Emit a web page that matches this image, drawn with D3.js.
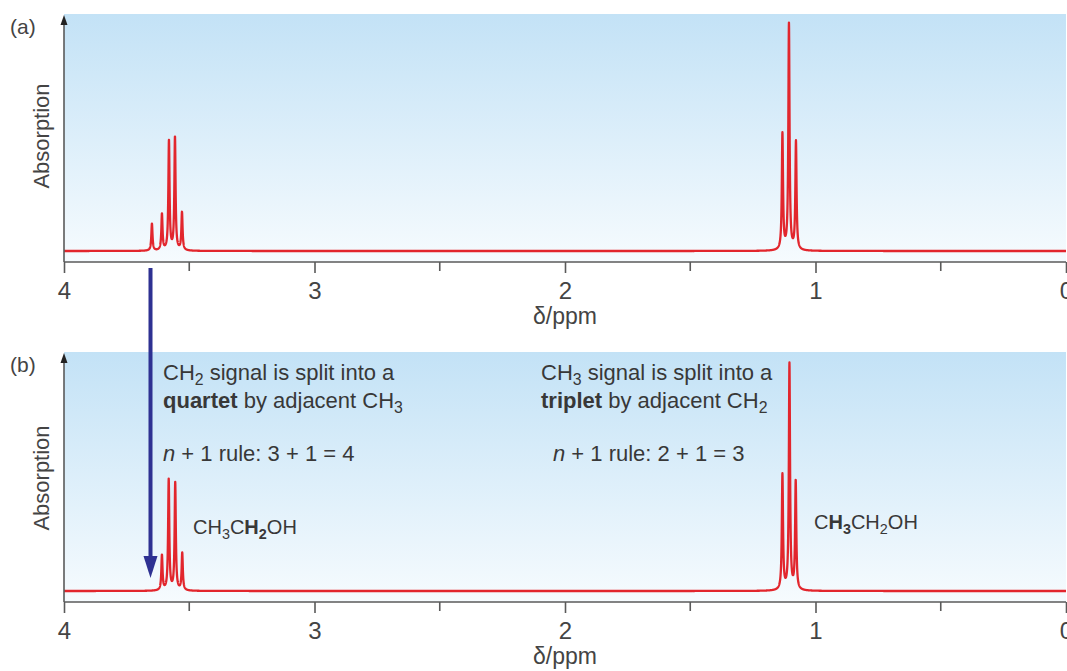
<!DOCTYPE html>
<html>
<head>
<meta charset="utf-8">
<style>
  body { margin: 0; background: #fff; }
  svg text { font-family: "Liberation Sans", Arial, Helvetica, sans-serif; fill: #383838; }
  .axis path, .axis line { stroke: #5a5a5a; stroke-width: 1.6; }
  .axis text { font-size: 24px; fill: #444; }
  .spec { fill: none; stroke: #e2262d; stroke-width: 2.3; stroke-linejoin: round; }
</style>
</head>
<body>
<svg id="chart" width="1067" height="671"></svg>
<script src="https://cdn.jsdelivr.net/npm/d3@7"></script>
<script>
// chemical shift axis
var tickValues = [4, 3, 2, 1, 0];
var minorTicks = [3.5, 2.5, 1.5, 0.5];

// (a) low resolution spectrum of ethanol, peak positions (ppm) and heights (% of tallest)
var peaksA_ppm = [3.649, 3.609, 3.581, 3.557, 3.529, 1.132, 1.106, 1.078];
var peaksA_height = [12, 16, 48.5, 50, 16.8, 51.3, 100, 47.9];

// (b) same spectrum with the splitting annotated
var peaksB_ppm = [3.609, 3.582, 3.556, 3.528, 1.132, 1.104, 1.079];
var peaksB_height = [15.5, 49, 47.5, 16.5, 51, 100, 48];

var panelLabels = ["(a)", "(b)"];

var svg = d3.select("#chart");
var left = 64, right = 1066;

var x = d3.scaleLinear().domain([4, 0]).range([left, right]);

var grad = svg.append("defs").append("linearGradient")
    .attr("id", "bg").attr("x1", 0).attr("y1", 0).attr("x2", 0).attr("y2", 1);
grad.append("stop").attr("offset", "0%").attr("stop-color", "#c3e2f6");
grad.append("stop").attr("offset", "100%").attr("stop-color", "#f6fbfe");

// lorentzian line shape built from the peak list
function spectrum(ppm, h) {
  var g = 0.0028, pts = [];
  for (var i = 0; i <= 10000; i++) {
    var d = 4 - i * 0.0004, v = 0;
    for (var k = 0; k < ppm.length; k++) {
      var dx = d - ppm[k];
      v += h[k] * g * g / (dx * dx + g * g);
    }
    pts.push([d, v]);
  }
  return pts;
}

function panel(top, axisY, label, ppm, h, absY) {
  var g = svg.append("g");
  var y = d3.scaleLinear().domain([0, 100]).range([axisY - 11, axisY - 237]);

  g.append("rect")
    .attr("x", left).attr("y", top)
    .attr("width", right - left).attr("height", axisY - top)
    .attr("fill", "url(#bg)");

  g.append("path")
    .datum(spectrum(ppm, h))
    .attr("class", "spec")
    .attr("d", d3.line().x(function(d) { return x(d[0]); }).y(function(d) { return y(d[1]); }));

  var ax = g.append("g").attr("class", "axis")
    .attr("transform", "translate(0," + axisY + ")")
    .call(d3.axisBottom(x).tickValues(tickValues).tickSize(11).tickSizeOuter(0).tickPadding(9).tickFormat(d3.format("d")));
  ax.select(".domain").attr("d", "M" + left + ",0H" + right);
  ax.selectAll(".minor").data(minorTicks).enter().append("line")
    .attr("class", "minor")
    .attr("x1", function(d) { return x(d); }).attr("x2", function(d) { return x(d); })
    .attr("y1", 0).attr("y2", 9);

  g.append("text")
    .attr("x", x(2)).attr("y", axisY + 62)
    .attr("text-anchor", "middle")
    .style("font-size", "23px").style("fill", "#444")
    .text("\u03b4/ppm");

  // absorption axis with arrow
  g.append("line")
    .attr("x1", left).attr("x2", left)
    .attr("y1", axisY).attr("y2", top + 6)
    .attr("stroke", "#5a5a5a").attr("stroke-width", 1.6);
  g.append("path")
    .attr("d", "M" + left + "," + (top + 1) + "L" + (left - 3.5) + "," + (top + 11) + "L" + (left + 3.5) + "," + (top + 11) + "Z")
    .attr("fill", "#222");

  g.append("text")
    .attr("transform", "translate(49," + absY + ") rotate(-90)")
    .attr("text-anchor", "middle")
    .style("font-size", "22px").style("fill", "#444")
    .text("Absorption");

  g.append("text")
    .attr("x", 10).attr("y", top + 20)
    .style("font-size", "21px").style("fill", "#444")
    .text(label);
}

panel(14, 262, panelLabels[0], peaksA_ppm, peaksA_height, 136);
panel(352, 602, panelLabels[1], peaksB_ppm, peaksB_height, 478);

// annotations: each line is a list of [text, style, dy] runs
function rich(xp, yp, runs, size) {
  var t = svg.append("text").attr("x", xp).attr("y", yp).style("font-size", size + "px");
  runs.forEach(function(r) {
    var s = t.append("tspan").text(r[0]);
    if (r[1] && r[1].indexOf("b") >= 0) s.style("font-weight", "bold");
    if (r[1] && r[1].indexOf("i") >= 0) s.style("font-style", "italic");
    if (r[1] && r[1].indexOf("s") >= 0) {
      s.style("font-size", (size * 0.72) + "px").attr("dy", 5);
    }
    if (r[2]) s.attr("dy", r[2]);
  });
  return t;
}
function sub(txt, extra) { return [txt, "s" + (extra || "")]; }

rich(163, 380, [["CH"], sub("2"), [" signal is split into a", "", -5]], 22);
rich(163, 408, [["quartet", "b"], [" by adjacent CH"], sub("3")], 22);
rich(163, 461, [["n", "i"], [" + 1 rule: 3 + 1 = 4"]], 22);

rich(541, 380, [["CH"], sub("3"), [" signal is split into a", "", -5]], 22);
rich(541, 408, [["triplet", "b"], [" by adjacent CH"], sub("2")], 22);
rich(553, 461, [["n", "i"], [" + 1 rule: 2 + 1 = 3"]], 22);

rich(193, 534, [["CH"], sub("3"), ["C", "", -5], ["H", "b"], sub("2", "b"), ["OH", "", -5]], 20);
rich(814, 529, [["C"], ["H", "b"], sub("3", "b"), ["CH", "", -5], sub("2"), ["OH", "", -5]], 20);

// arrow from (a) quartet down to (b)
svg.append("line")
  .attr("x1", 150.5).attr("x2", 150.5)
  .attr("y1", 268).attr("y2", 560)
  .attr("stroke", "#2e3192").attr("stroke-width", 4);
svg.append("path")
  .attr("d", "M143.5,556L157.5,556L150.5,578Z")
  .attr("fill", "#2e3192");
</script>
</body>
</html>
